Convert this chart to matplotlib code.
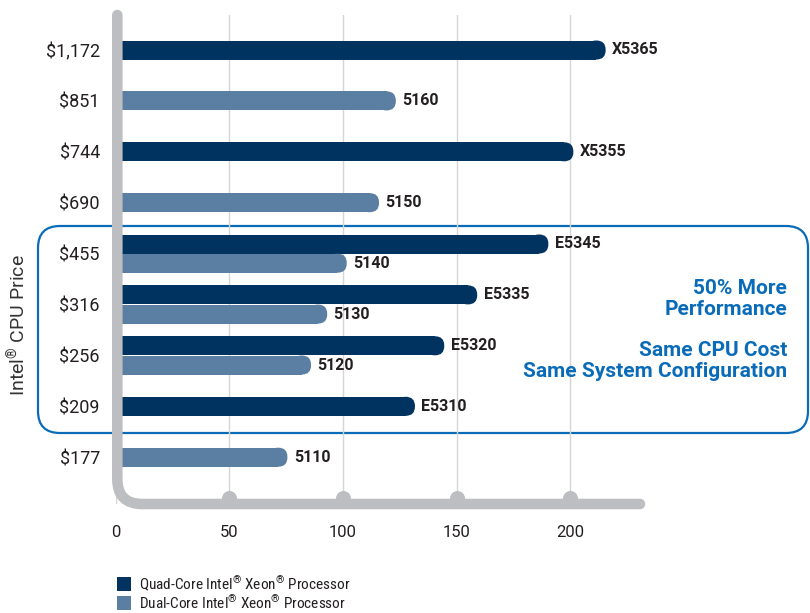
import matplotlib
matplotlib.use('Agg')
import matplotlib.pyplot as plt
from matplotlib.patches import FancyBboxPatch, Patch, PathPatch
from matplotlib.path import Path

# ---------------- data ----------------
prices = ['$1,172', '$851', '$744', '$690', '$455', '$316', '$256', '$209', '$177']
quad_names = ['X5365', None, 'X5355', None, 'E5345', 'E5335', 'E5320', 'E5310', None]
quad_perf = [215.5, None, 201.3, None, 190.3, 159.0, 144.5, 131.6, None]
dual_names = [None, '5160', None, '5150', '5140', '5130', '5120', None, '5110']
dual_perf = [None, 123.2, None, 115.8, 101.6, 93.0, 85.9, None, 75.5]
x_ticks = [0, 50, 100, 150, 200]
legend_labels = ['Quad-Core Intel® Xeon® Processor', 'Dual-Core Intel® Xeon® Processor']
callout_1 = ['50% More', 'Performance']
callout_2 = ['Same CPU Cost', 'Same System Configuration']
y_axis_label = 'Intel® CPU Price'

# ---------------- style ----------------
REG = ['Roboto', 'DejaVu Sans']
COND = ['Roboto Condensed', 'Roboto', 'DejaVu Sans']
plt.rcParams['font.family'] = REG
plt.rcParams['mathtext.fontset'] = 'custom'
plt.rcParams['mathtext.rm'] = 'Roboto'
plt.rcParams['mathtext.it'] = 'Roboto'
plt.rcParams['mathtext.bf'] = 'Roboto:bold'
DARK = '#00335f'
LIGHT = '#5b7fa3'
GRAY = '#bdbec1'
BLUE = '#0a6cb8'
TXT = '#231f20'


def sup_reg(s):
    """Render the registered sign as a small superscript, as in the original."""
    return s.replace('$', r'\$').replace('®', r'$^{\mathrm{®}}$')


W, H = 810, 613
fig = plt.figure(figsize=(W / 100, H / 100), dpi=100)

# decoration layer in pixel coordinates
deco = fig.add_axes([0, 0, 1, 1], zorder=0)
deco.set_xlim(0, W)
deco.set_ylim(H, 0)
deco.axis('off')
deco.add_patch(FancyBboxPatch((38, 226), 770, 207,
                              boxstyle='round,pad=0,rounding_size=22',
                              fill=False, ec=BLUE, lw=1.6))

# main axes
ax_l, ax_r, ax_t, ax_b = 115.8, 640.0, 15.0, 504.0
ax = fig.add_axes([ax_l / W, (H - ax_b) / H, (ax_r - ax_l) / W, (ax_b - ax_t) / H], zorder=1)
ax.set_facecolor('none')
px_per_x = 2.273
px_per_row = 50.9
row0_px = 50.0
x_max = (ax_r - ax_l) / px_per_x
y_top = (ax_t - row0_px) / px_per_row
y_bot = (ax_b - row0_px) / px_per_row
ax.set_xlim(0, x_max)
ax.set_ylim(y_bot, y_top)
for s in ax.spines.values():
    s.set_visible(False)

ax.set_xticks(x_ticks)
ax.set_xticklabels([str(t) for t in x_ticks])
ax.set_yticks(range(len(prices)))
ax.set_yticklabels([p.replace('$', r'\$') for p in prices])
ax.tick_params(axis='x', length=0, pad=15, labelsize=12, labelcolor=TXT)
ax.tick_params(axis='y', length=0, pad=11.4, labelsize=13, labelcolor=TXT)
ax.xaxis.grid(True, color='#d6d6d6', lw=1)
ax.set_axisbelow(True)

# bars
bar_h = 19 / px_per_row
offset = 9.6 / px_per_row
r_x = 9.3 / px_per_x
aspect = px_per_x / px_per_row


def draw_bar(y, val, color, name):
    ax.barh(y, val - r_x, height=bar_h, left=0, color=color, lw=0, zorder=2)
    ax.add_patch(FancyBboxPatch((val - 2 * r_x, y - bar_h / 2), 2 * r_x, bar_h,
                                boxstyle=f'round,pad=0,rounding_size={r_x * 0.98}',
                                mutation_aspect=aspect, fc=color, ec='none', zorder=2))
    ax.text(val + 6.3 / px_per_x, y, name, ha='left', va='center', fontsize=11.5,
            fontweight='bold', color=TXT, zorder=3)


for i in range(len(prices)):
    q, d = quad_perf[i], dual_perf[i]
    if q is not None and d is not None:
        draw_bar(i - offset, q, DARK, quad_names[i])
        draw_bar(i + offset, d, LIGHT, dual_names[i])
    elif q is not None:
        draw_bar(i, q, DARK, quad_names[i])
    else:
        draw_bar(i, d, LIGHT, dual_names[i])

# gray rounded L-shaped axis
x0 = 1.5 / px_per_x
rx = 25 / px_per_x
ry = 25 / px_per_row
verts = [(x0, y_top), (x0, y_bot - ry), (x0, y_bot), (x0 + rx, y_bot), (x_max, y_bot)]
codes = [Path.MOVETO, Path.LINETO, Path.CURVE3, Path.CURVE3, Path.LINETO]
ax.add_patch(PathPatch(Path(verts, codes), fill=False, ec=GRAY, lw=7.6,
                       capstyle='round', joinstyle='round', clip_on=False, zorder=4))
ax.plot(x_ticks[1:], [y_bot - 6.5 / px_per_row] * (len(x_ticks) - 1), 'o', ms=10.8,
        color=GRAY, mew=0, clip_on=False, zorder=4)

# callout texts
for k, line in enumerate(callout_1):
    fig.text(787 / W, 1 - (289 + 20.5 * k) / H, line, ha='right', va='center',
             fontsize=15, fontweight='bold', color=BLUE)
for k, line in enumerate(callout_2):
    fig.text(787 / W, 1 - (350.5 + 21 * k) / H, line, ha='right', va='center',
             fontsize=15, fontweight='bold', color=BLUE)

# y-axis title
fig.text(18 / W, 1 - 325 / H, sup_reg(y_axis_label), rotation=90, ha='center', va='center',
         fontsize=14, color='#333333')

# legend
handles = [Patch(fc=DARK, ec='none'), Patch(fc=LIGHT, ec='none')]
leg = fig.legend(handles, [sup_reg(s) for s in legend_labels], loc='upper left',
                 bbox_to_anchor=(117 / W, 1 - 574 / H), frameon=False,
                 prop={'family': COND, 'size': 11},
                 handlelength=0.92, handleheight=0.98, handletextpad=0.5,
                 borderpad=0, borderaxespad=0, labelspacing=0.05)
for t in leg.get_texts():
    t.set_color(TXT)

fig.savefig('out.png', dpi=100)
